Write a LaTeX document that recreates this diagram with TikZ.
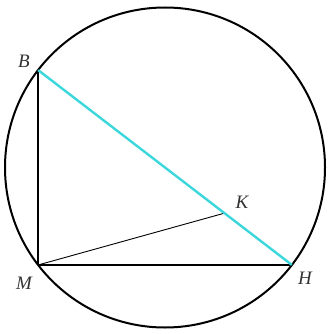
\documentclass[tikz,border=0pt]{standalone}
\usepackage{fontspec}
\setmainfont{Liberation Serif}
\usepackage{tikz}
\definecolor{diam}{RGB}{60,215,220}

\begin{document}
\begin{tikzpicture}[
    x=1pt, y=-1pt,
    pt/.style={inner sep=0pt, minimum size=0pt},
    lbl/.style={font=\fontsize{19}{21}\selectfont\itshape, text=black!80, inner sep=1pt},
    side/.style={line width=2.3pt},
    hyp/.style={line width=2.4pt, draw=diam},
    thin/.style={line width=0.9pt}
]
\useasboundingbox (0,0) rectangle (327,334);
\node[pt] at (165,167.5) (o) {};
\node[pt] at (38,70) (b) {};
\node[pt] at (38,265) (m) {};
\node[pt] at (292,265) (h) {};
\node[pt] at (225,213) (k) {};

\draw[line width=2pt] (o) circle (160);

\draw[side] (b) -- (m);
\draw[side] (m) -- (h);
\draw[thin] (m) -- (k);
\draw[hyp] (b) -- (h);

\node[lbl] at (24,61) (lb) {B};
\node[lbl] at (24,283) (lm) {M};
\node[lbl] at (305,278) (lh) {H};
\node[lbl] at (242,202) (lk) {K};
\end{tikzpicture}
\end{document}
